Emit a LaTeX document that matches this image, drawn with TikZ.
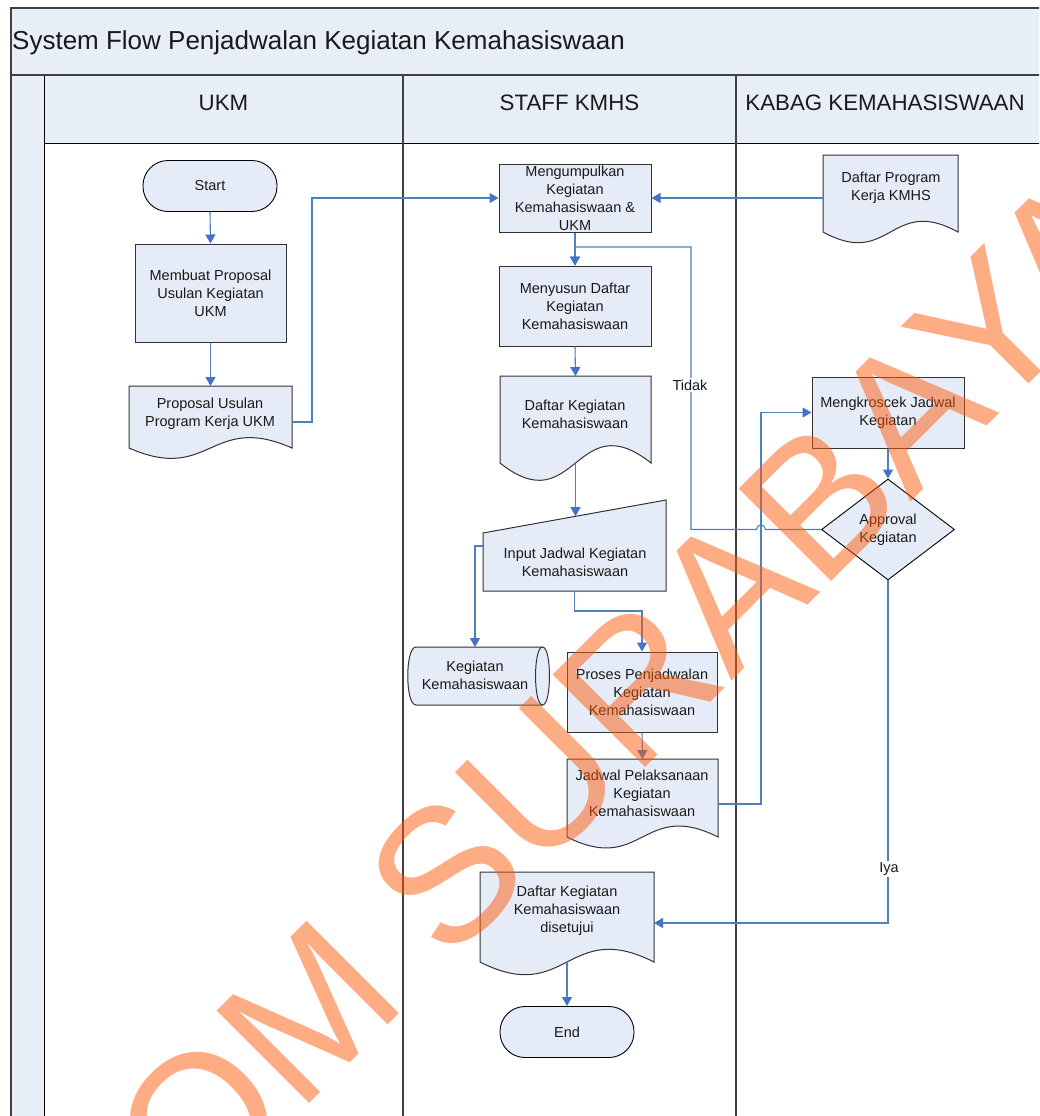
\documentclass[tikz,border=0pt]{standalone}
\usepackage{fontspec}
\setmainfont{Liberation Sans}
\usetikzlibrary{shapes.geometric,arrows.meta,calc}
\definecolor{lanefill}{RGB}{232,238,248}
\definecolor{nodefill}{RGB}{230,236,247}
\definecolor{framegray}{RGB}{64,64,64}
\definecolor{conn}{RGB}{79,129,189}
\definecolor{arrowblue}{RGB}{68,114,196}
\definecolor{wmark}{RGB}{252,90,10}
\begin{document}
\begin{tikzpicture}[x=1pt,y=-1pt,
  body/.style={font=\fontsize{14.5}{18}\selectfont, align=center, text=black!90},
  procbox/.style={body, draw=black!80, line width=1pt, fill=nodefill, inner sep=0pt},
  termbox/.style={body, draw=black, line width=0.9pt, fill=nodefill, rounded corners=25pt, minimum width=134pt, minimum height=51pt, inner sep=0pt},
  geom/.style={inner sep=0pt, outer sep=0pt},
  docpath/.style={draw=black!80, line width=1pt, fill=nodefill},
  txt/.style={body, inner sep=0pt},
  flow/.style={draw=conn, line width=1.1pt, -{Triangle[length=9pt,width=10pt,color=arrowblue]}},
  lbl/.style={body, fill=white, inner sep=1.5pt},
  frame/.style={draw=framegray, line width=2pt},
  hdr/.style={font=\fontsize{22.3}{26}\selectfont, anchor=base, inner sep=0pt, text=black!90},
]
\useasboundingbox (0,0) rectangle (1039,1116);
\clip (0,0) rectangle (1039,1116);
\fill[white] (0,0) rectangle (1039,1116);

% ---------- frame / swimlanes ----------
\fill[lanefill] (11,8) rectangle (1045,143);
\fill[lanefill] (11,143) rectangle (44,1120);
\draw[black, line width=1pt] (44,143) -- (1045,143);
\draw[black, line width=1pt] (44,75) -- (44,1120);
\draw[frame] (11,1120) -- (11,8) -- (1045,8);
\draw[frame] (11,75) -- (1045,75);
\draw[frame] (403,75) -- (403,1120);
\draw[frame] (736,75) -- (736,1120);

\node[font=\fontsize{26}{30}\selectfont, anchor=base west, inner sep=0pt, text=black!90] (title) at (12,50) {System Flow Penjadwalan Kegiatan Kemahasiswaan};
\node[hdr] (hukm) at (223.5,110) {UKM};
\node[hdr] (hstaff) at (569.5,110) {STAFF KMHS};
\node[hdr] (hkabag) at (885,110) {KABAG KEMAHASISWAAN};

% ---------- UKM lane ----------
\node[termbox] (start) at (210,186) {Start};
\node[procbox, minimum width=151pt, minimum height=98pt] (membuat) at (210.5,293) {Membuat Proposal\\Usulan Kegiatan\\UKM};
\node[geom, minimum width=163pt, minimum height=62pt] (prop) at (210.5,417) {};
\path[docpath] (prop.north west) -- (prop.north east) -- (prop.south east)
  .. controls ($(prop.south)+(0,-36)$) and ($(prop.south)+(0,36)$) .. (prop.south west) -- cycle;
\node[txt] (propt) at (210,414) {Proposal Usulan\\Program Kerja UKM};

% ---------- STAFF KMHS lane ----------
\node[procbox, minimum width=152pt, minimum height=68pt] (mengum) at (575,198) {Mengumpulkan\\Kegiatan\\Kemahasiswaan \&\\UKM};
\node[procbox, minimum width=152pt, minimum height=80pt] (menyusun) at (575,306) {Menyusun Daftar\\Kegiatan\\Kemahasiswaan};

\node[geom, minimum width=151pt, minimum height=87pt] (dkeg) at (575.5,419.5) {};
\path[docpath] (dkeg.north west) -- (dkeg.north east) -- (dkeg.south east)
  .. controls ($(dkeg.south)+(0,-60)$) and ($(dkeg.south)+(0,60)$) .. (dkeg.south west) -- cycle;
\node[txt] (dkegt) at (575,414) {Daftar Kegiatan\\Kemahasiswaan};

\node[geom, minimum width=183pt, minimum height=91pt] (input) at (574.5,545.5) {};
\path[docpath] ($(input.north west)+(0,33)$) -- (input.north east) -- (input.south east) -- (input.south west) -- cycle;
\node[txt] (inputt) at (575,562) {Input Jadwal Kegiatan\\Kemahasiswaan};
\coordinate (intop) at (575.5,516.2);
\coordinate (inleft) at (483,546);

\node[geom, minimum width=142pt, minimum height=58pt] (store) at (478,676) {};
\path[docpath] (416,647) -- (542.5,647) .. controls (551.8,647) and (551.8,705) .. (542.5,705)
  -- (416,705) .. controls (405,705) and (405,647) .. (416,647) -- cycle;
\draw[draw=black!80, line width=1pt] (542.5,647) .. controls (533.2,647) and (533.2,705) .. (542.5,705);
\node[txt] (storet) at (475,675) {Kegiatan\\Kemahasiswaan};
\coordinate (storetop) at (475,647);

\node[procbox, minimum width=150pt, minimum height=80pt] (proses) at (642,692) {Proses Penjadwalan\\Kegiatan\\Kemahasiswaan};

\node[geom, minimum width=151pt, minimum height=78pt] (jadwal) at (642.5,798) {};
\path[docpath] (jadwal.north west) -- (jadwal.north east) -- (jadwal.south east)
  .. controls ($(jadwal.south)+(0,-38)$) and ($(jadwal.south)+(0,38)$) .. (jadwal.south west) -- cycle;
\node[txt] (jadwalt) at (642,793) {Jadwal Pelaksanaan\\Kegiatan\\Kemahasiswaan};
\coordinate (jeast) at (718,804);

\node[geom, minimum width=174pt, minimum height=90pt] (dset) at (567,917) {};
\path[docpath] (dset.north west) -- (dset.north east) -- (dset.south east)
  .. controls ($(dset.south)+(0,-44)$) and ($(dset.south)+(0,44)$) .. (dset.south west) -- cycle;
\node[txt] (dsett) at (567,911) {Daftar Kegiatan\\Kemahasiswaan\\disetujui};
\coordinate (dseteast) at (654,923);

\node[termbox] (end) at (567,1032) {End};

% ---------- KABAG lane ----------
\node[geom, minimum width=135pt, minimum height=77pt] (dprog) at (890.5,193.5) {};
\path[docpath] (dprog.north west) -- (dprog.north east) -- (dprog.south east)
  .. controls ($(dprog.south)+(0,-37)$) and ($(dprog.south)+(0,37)$) .. (dprog.south west) -- cycle;
\node[txt] (dprogt) at (891,188) {Daftar Program\\Kerja KMHS};

\node[procbox, minimum width=152pt, minimum height=71pt] (mengk) at (888,412.5) {Mengkroscek Jadwal\\Kegiatan};
\node[diamond, body, draw=black, line width=0.9pt, fill=nodefill, inner sep=0pt, minimum width=133pt, minimum height=101pt] (appr) at (888,529.5) {Approval\\Kegiatan};

% ---------- connectors ----------
\draw[flow] (start.south) -- (membuat.north);
\draw[flow] (membuat.south) -- (prop.north);
\draw[flow] ($(prop.east)+(0,5)$) -- ++(20,0) |- (mengum.west);
\draw[flow] (dprog.west |- mengum.east) -- (mengum.east);
\draw[flow] (mengum.south) -- (menyusun.north);
\draw[flow] (menyusun.south) -- (dkeg.north);
\draw[flow] (dkeg.south) -- (intop);
\draw[flow] (inleft) -| (storetop);
\draw[flow] (input.south) -- ++(0,20) -| (proses.north);
\draw[flow] (proses.south) -- (jadwal.north);
\draw[flow] (jeast) -- (761,804) |- (mengk.west);
\draw[flow] (mengk.south) -- (appr.north);
\draw[flow] (appr.west) -- (765.5,529.5) .. controls (765.5,523.5) and (756.5,523.5) .. (756.5,529.5)
  -- (691,529.5) -- (691,247) -- (575,247) -- (menyusun.north);
\node[lbl] (tidak) at (690,385) {Tidak};
\draw[flow] (appr.south) -- (888,923) -- (dseteast);
\node[lbl] (iya) at (889,869) {Iya};
\draw[flow] (dset.south) -- (end.north);

% ---------- watermark ----------
\node[font=\fontsize{190}{190}\selectfont, text=wmark, text opacity=0.5, rotate=45, anchor=base west, inner sep=0pt] (wm) at (-105,1518) {STIKOM SURABAYA};
\end{tikzpicture}
\end{document}
